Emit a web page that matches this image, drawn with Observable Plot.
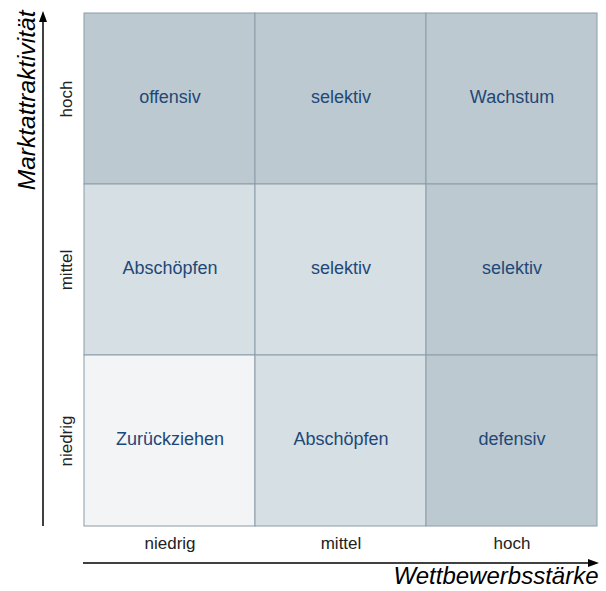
<!DOCTYPE html>
<html>
<head>
<meta charset="utf-8">
<script src="https://cdn.jsdelivr.net/npm/d3@7"></script>
<script src="https://cdn.jsdelivr.net/npm/@observablehq/plot@0.6"></script>
<style>
  html, body { margin: 0; padding: 0; background: #fff; }
  body { width: 606px; height: 591px; overflow: hidden; }
</style>
</head>
<body>
<div id="chart"></div>
<script>
const levels = ["niedrig", "mittel", "hoch"];
const xTitle = "Wettbewerbsstärke";
const yTitle = "Marktattraktivität";
// rows from top (hoch) to bottom (niedrig)
const rowHoch = ["offensiv", "selektiv", "Wachstum"];
const rowMittel = ["Abschöpfen", "selektiv", "selektiv"];
const rowNiedrig = ["Zurückziehen", "Abschöpfen", "defensiv"];
const shadeHoch = [2, 2, 2];
const shadeMittel = [1, 1, 2];
const shadeNiedrig = [0, 1, 2];
const shadeColors = ["#f2f4f6", "#d6dfe3", "#bdc9d0"];

const rows = [
  ["hoch", rowHoch, shadeHoch],
  ["mittel", rowMittel, shadeMittel],
  ["niedrig", rowNiedrig, shadeNiedrig]
];
const cells = [];
for (const [y, labels, shades] of rows) {
  labels.forEach((label, i) => cells.push({x: levels[i], y, label, shade: shades[i]}));
}

const font = "'Liberation Sans', Arial, Helvetica, sans-serif";

function arrows(index, scales, values, dim) {
  const g = d3.create("svg:g");
  const left = dim.marginLeft, right = dim.width - dim.marginRight;
  const top = dim.marginTop, bottom = dim.height - dim.marginBottom;
  const ax = 43, ay = bottom + 37;
  g.append("line").attr("x1", ax).attr("x2", ax).attr("y1", bottom).attr("y2", top + 8)
    .attr("stroke", "#000").attr("stroke-width", 1.5);
  g.append("path").attr("d", `M${ax},${top - 1} L${ax - 4},${top + 10} L${ax + 4},${top + 10} Z`).attr("fill", "#000");
  g.append("line").attr("x1", left).attr("x2", right - 8).attr("y1", ay).attr("y2", ay)
    .attr("stroke", "#000").attr("stroke-width", 1.5);
  g.append("path").attr("d", `M${right + 1},${ay} L${right - 10},${ay - 4} L${right - 10},${ay + 4} Z`).attr("fill", "#000");
  return g.node();
}

const plot = Plot.plot({
  width: 606,
  height: 591,
  marginLeft: 83,
  marginRight: 8,
  marginTop: 12,
  marginBottom: 65,
  style: {fontFamily: font, fontSize: "17px", color: "#222", background: "#fff"},
  x: {domain: levels, padding: 0, label: null},
  y: {domain: levels.slice().reverse(), padding: 0, label: null},
  color: {type: "ordinal", domain: [0, 1, 2], range: shadeColors},
  marks: [
    Plot.cell(cells, {x: "x", y: "y", fill: "shade", stroke: "#8c9ca8", strokeWidth: 1}),
    Plot.text(cells, {x: "x", y: "y", text: "label", fill: "#1e4877", fontSize: 18, dy: -2}),
    Plot.axisX({tickSize: 0, tickPadding: 10, fontSize: 17, label: null}),
    Plot.axisY({tickSize: 0, tickPadding: 12, tickRotate: -90, fontSize: 17, label: null}),
    Plot.text([yTitle], {frameAnchor: "top-left", dx: -66, dy: -2, rotate: -90, textAnchor: "end", fontSize: 24.5, fontStyle: "italic", fill: "#000"}),
    Plot.text([xTitle], {frameAnchor: "bottom-right", dy: 57, textAnchor: "end", fontSize: 24, fontStyle: "italic", fill: "#000"}),
    arrows
  ]
});
document.getElementById("chart").appendChild(plot);
</script>
</body>
</html>
